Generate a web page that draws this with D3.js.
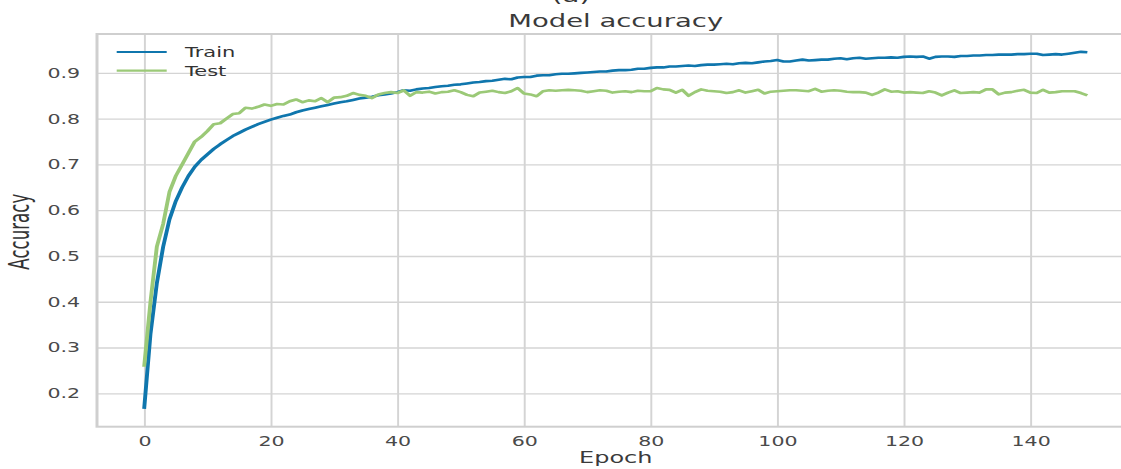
<!DOCTYPE html>
<html>
<head>
<meta charset="utf-8">
<script src="https://cdn.jsdelivr.net/npm/d3@7"></script>
<style>
  html, body { margin: 0; padding: 0; background: #fff; overflow: hidden; }
  svg { display: block; }
</style>
</head>
<body>
<div id="chart"></div>
<script>
// accuracy per epoch
const trainAcc = [
  0.166, 0.330, 0.440, 0.520, 0.580, 0.620, 0.650, 0.675, 0.695, 0.710,
  0.722, 0.734, 0.744, 0.753, 0.762, 0.769, 0.776, 0.782, 0.788, 0.793,
  0.798, 0.802, 0.806, 0.809, 0.814, 0.818, 0.821, 0.824, 0.827, 0.830,
  0.833, 0.836, 0.838, 0.841, 0.844, 0.846, 0.848, 0.851, 0.853, 0.855,
  0.858, 0.862, 0.861, 0.864, 0.866, 0.867, 0.869, 0.871, 0.872, 0.874,
  0.875, 0.877, 0.879, 0.880, 0.882, 0.883, 0.885, 0.887, 0.886, 0.890,
  0.891, 0.891, 0.894, 0.895, 0.895, 0.897, 0.898, 0.898, 0.899, 0.900,
  0.901, 0.902, 0.903, 0.903, 0.905, 0.906, 0.906, 0.907, 0.909, 0.909,
  0.911, 0.912, 0.912, 0.914, 0.914, 0.915, 0.916, 0.915, 0.917, 0.918,
  0.918, 0.919, 0.920, 0.919, 0.921, 0.922, 0.921, 0.923, 0.925, 0.926,
  0.928, 0.925, 0.925, 0.927, 0.929, 0.927, 0.928, 0.929, 0.929, 0.931,
  0.932, 0.930, 0.932, 0.933, 0.931, 0.932, 0.933, 0.933, 0.934, 0.933,
  0.935, 0.936, 0.935, 0.936, 0.931, 0.935, 0.936, 0.936, 0.935, 0.937,
  0.937, 0.938, 0.938, 0.939, 0.939, 0.940, 0.940, 0.940, 0.941, 0.941,
  0.942, 0.942, 0.939, 0.940, 0.941, 0.940, 0.942, 0.944, 0.946, 0.945
];
const testAcc = [
  0.258, 0.400, 0.520, 0.570, 0.640, 0.675, 0.700, 0.725, 0.750, 0.760,
  0.773, 0.788, 0.790, 0.800, 0.810, 0.812, 0.824, 0.822, 0.826, 0.831,
  0.828, 0.832, 0.831, 0.838, 0.842, 0.836, 0.840, 0.838, 0.845, 0.836,
  0.846, 0.847, 0.850, 0.856, 0.852, 0.850, 0.845, 0.853, 0.856, 0.858,
  0.856, 0.862, 0.850, 0.858, 0.857, 0.859, 0.855, 0.858, 0.859, 0.862,
  0.858, 0.852, 0.849, 0.857, 0.859, 0.861, 0.858, 0.856, 0.860, 0.867,
  0.855, 0.853, 0.849, 0.860, 0.862, 0.861, 0.862, 0.863, 0.862, 0.861,
  0.858, 0.860, 0.862, 0.861, 0.857, 0.859, 0.860, 0.858, 0.861, 0.860,
  0.860, 0.867, 0.864, 0.863, 0.857, 0.863, 0.850, 0.858, 0.864, 0.861,
  0.860, 0.859, 0.856, 0.858, 0.862, 0.857, 0.860, 0.863, 0.855, 0.859,
  0.860, 0.861, 0.862, 0.862, 0.861, 0.860, 0.865, 0.859, 0.861, 0.862,
  0.861, 0.859, 0.858, 0.858, 0.857, 0.852, 0.857, 0.864, 0.859, 0.860,
  0.857, 0.858, 0.857, 0.856, 0.860, 0.857, 0.851, 0.857, 0.862, 0.856,
  0.857, 0.858, 0.857, 0.864, 0.864, 0.853, 0.857, 0.858, 0.861, 0.863,
  0.857, 0.856, 0.863, 0.857, 0.858, 0.860, 0.860, 0.860, 0.856, 0.851
];
const seriesNames = ["Train", "Test"];
const seriesColors = ["#0f76ad", "#9bc977"];
const xTicks = [0, 20, 40, 60, 80, 100, 120, 140];
const yTicks = [0.2, 0.3, 0.4, 0.5, 0.6, 0.7, 0.8, 0.9];

// the original figure was stretched sideways, so draw in a narrower box and stretch it
const W = 1121, H = 469, stretch = 1.5;
const vw = W / stretch;

const svg = d3.select("#chart").append("svg")
  .attr("width", W).attr("height", H)
  .attr("viewBox", `0 0 ${vw} ${H}`)
  .attr("preserveAspectRatio", "none");

const plot = {left: 97 / stretch, right: 1134.5 / stretch, top: 34, bottom: 426.7};
const n = trainAcc.length;
const xPad = (n - 1) * 0.05;
const yMin = d3.min(trainAcc.concat(testAcc)), yMax = d3.max(trainAcc.concat(testAcc));
const yPad = (yMax - yMin) * 0.05;

const x = d3.scaleLinear().domain([-xPad, n - 1 + xPad]).range([plot.left, plot.right]);
const y = d3.scaleLinear().domain([yMin - yPad, yMax + yPad]).range([plot.bottom, plot.top]);

const font = "'DejaVu Sans', sans-serif";

// grid
svg.append("g")
  .attr("transform", `translate(0,${plot.bottom})`)
  .call(d3.axisBottom(x).tickValues(xTicks).tickSize(-(plot.bottom - plot.top)).tickPadding(10).tickFormat(d3.format("d")))
  .call(g => g.select(".domain").remove())
  .call(g => g.selectAll(".tick line").attr("stroke", "#d4d4d4").attr("stroke-width", 1.3))
  .call(g => g.selectAll(".tick text").attr("fill", "#4a4a4a").attr("font-family", font).attr("font-size", 13.7).attr("dy", "0.71em"));

svg.append("g")
  .attr("transform", `translate(${plot.left},0)`)
  .call(d3.axisLeft(y).tickValues(yTicks).tickSize(-(plot.right - plot.left)).tickPadding(11.3).tickFormat(d3.format(".1f")))
  .call(g => g.select(".domain").remove())
  .call(g => g.selectAll(".tick line").attr("stroke", "#d4d4d4").attr("stroke-width", 1.3))
  .call(g => g.selectAll(".tick text").attr("fill", "#4a4a4a").attr("font-family", font).attr("font-size", 13.7));

// frame
svg.append("rect")
  .attr("x", plot.left).attr("y", plot.top)
  .attr("width", plot.right - plot.left).attr("height", plot.bottom - plot.top)
  .attr("fill", "none").attr("stroke", "#cfcfcf").attr("stroke-width", 2);

// lines
const line = d3.line().x((d, i) => x(i)).y(d => y(d));
[trainAcc, testAcc].forEach((vals, k) => {
  svg.append("path")
    .datum(vals)
    .attr("d", line)
    .attr("fill", "none")
    .attr("stroke", seriesColors[k])
    .attr("stroke-width", 2.6)
    .attr("stroke-linejoin", "round");
});

// legend
const leg = svg.append("g");
seriesNames.forEach((name, k) => {
  const ly = 52 + k * 18.7;
  leg.append("line")
    .attr("x1", 116.7 / stretch).attr("x2", 166.7 / stretch)
    .attr("y1", ly).attr("y2", ly)
    .attr("stroke", seriesColors[k]).attr("stroke-width", 2.2);
  leg.append("text")
    .attr("x", 185 / stretch).attr("y", ly + 5)
    .attr("font-family", font).attr("font-size", 14)
    .attr("fill", "#333")
    .text(name);
});

// titles
svg.append("text")
  .attr("x", 571 / stretch).attr("y", 1.5)
  .attr("text-anchor", "middle")
  .attr("font-family", font).attr("font-size", 18.3).attr("fill", "#333")
  .text("(a)");

svg.append("text")
  .attr("x", (plot.left + plot.right) / 2).attr("y", 27.3)
  .attr("text-anchor", "middle")
  .attr("font-family", font).attr("font-size", 18.3).attr("fill", "#3a3a3a")
  .text("Model accuracy");

svg.append("text")
  .attr("x", (plot.left + plot.right) / 2).attr("y", 463.3)
  .attr("text-anchor", "middle")
  .attr("font-family", font).attr("font-size", 16).attr("fill", "#3a3a3a")
  .text("Epoch");

svg.append("text")
  .attr("transform", `translate(${29.3 / stretch},231.7) rotate(-90)`)
  .attr("text-anchor", "middle")
  .attr("font-family", "'Liberation Sans Narrow', 'DejaVu Sans Condensed', sans-serif")
  .attr("font-size", 18.5).attr("fill", "#333")
  .text("Accuracy");
</script>
</body>
</html>
